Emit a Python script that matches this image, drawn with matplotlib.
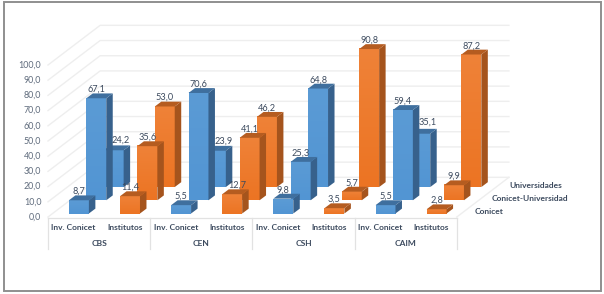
import numpy as np
import matplotlib
matplotlib.use('Agg')
from matplotlib import pyplot as plt
from matplotlib.colors import LinearSegmentedColormap
from matplotlib.patches import Polygon, Rectangle

plt.rcParams['font.family'] = ['Lato', 'DejaVu Sans']

groups = ['CBS', 'CEN', 'CSH', 'CAIM']
categories = ['Inv. Conicet', 'Institutos'] * 4
series = ['Conicet', 'Conicet-Universidad', 'Universidades']
conicet = [8.7, 11.4, 5.5, 12.7, 9.8, 3.5, 5.5, 2.8]
conicet_univ = [67.1, 35.6, 70.6, 41.1, 25.3, 5.7, 59.4, 9.9]
universidades = [24.2, 53.0, 23.9, 46.2, 64.8, 90.8, 35.1, 87.2]
y_ticks = [0, 10, 20, 30, 40, 50, 60, 70, 80, 90, 100]

TEXT = '#3c4a5e'
TICK = '#5f6b7c'
GRID = '#eeeeee'
# scale of the axes: pixels for one category / one value unit
PX_X = 51.1
PX_Y = 1.52
# oblique depth shift for one row, in data units
ROW_DX = 0.34
ROW_DY = 8.7
BAR_W = 0.39
SIDE_DX = 0.127
SIDE_DY = 3.2
# labels moved aside in the original chart, (category, row): (dx in px, dy in units)
NUDGE = {(0, 2): (7, 0.8), (2, 2): (8, 0.8), (6, 2): (7, 1.5), (3, 0): (5, 0)}

fig = plt.figure(figsize=(6.04, 2.94), dpi=100)
ax = fig.add_axes([0, 0, 1, 1])
xlim = (-48 / PX_X, (604 - 48) / PX_X)
ylim = (-(294 - 217) / PX_Y, 217 / PX_Y)


def frame():
    # outer grey picture border, in axes fraction
    ax.add_patch(Rectangle((3.5 / 604, 3.5 / 294), 597.5 / 604, 289 / 294,
                           transform=ax.transAxes, fill=False,
                           ec='#8f8f8f', lw=1.4, zorder=1))


def walls():
    n = len(categories)
    dx = ROW_DX * 3
    dy = ROW_DY * 3
    for v in y_ticks:
        ax.plot([0, dx, n + dx], [v, v + dy, v + dy], color=GRID, lw=1, zorder=2)
        ax.text(-0.13, v, f'{v:.1f}'.replace('.', ','), ha='right', va='center',
                fontsize=6.4, color=TICK, zorder=50)
    ax.plot([n, n + dx], [0, dy], color=GRID, lw=1, zorder=2)
    # category axis below the floor
    low = -21
    ax.plot([0, n], [-0.5, -0.5], color='#e2e2e2', lw=0.9, zorder=2)
    for i in range(len(groups) + 1):
        ax.plot([i * 2, i * 2], [-0.5, low], color='#e2e2e2', lw=0.9, zorder=2)
    for i, c in enumerate(categories):
        ax.text(i + 0.5, -7, c, ha='center', va='center', fontsize=6,
                color=TEXT, fontweight='bold', zorder=50)
    for i, g in enumerate(groups):
        ax.text(i * 2 + 1, -17.3, g, ha='center', va='center', fontsize=6,
                color=TEXT, fontweight='bold', zorder=50)
    for r, s in enumerate(series):
        ax.text(n + 0.34 + r * ROW_DX, 3.5 + r * ROW_DY, s, ha='left', va='center',
                fontsize=6, color=TEXT, fontweight='bold', zorder=50)


def bar(i, r, value, cols, z):
    x0 = i + 0.41 + r * ROW_DX
    y0 = 2.3 + r * ROW_DY
    x1 = x0 + BAR_W
    y1 = y0 + value
    cmap = LinearSegmentedColormap.from_list('f', [cols[0], cols[1]])
    ax.imshow(np.linspace(0, 1, 64).reshape(-1, 1), cmap=cmap, aspect='auto',
              extent=(x0, x1, y0, y1), origin='upper', zorder=z)
    ax.add_patch(Polygon([(x1, y0), (x1 + SIDE_DX, y0 + SIDE_DY),
                          (x1 + SIDE_DX, y1 + SIDE_DY), (x1, y1)],
                         fc=cols[2], ec='none', zorder=z))
    ax.add_patch(Polygon([(x0, y1), (x1, y1), (x1 + SIDE_DX, y1 + SIDE_DY),
                          (x0 + SIDE_DX, y1 + SIDE_DY)],
                         fc=cols[3], ec='none', zorder=z))
    nx, ny = NUDGE.get((i, r), (0, 0))
    ax.text((x0 + x1) / 2 + nx / PX_X, y1 + 5.8 + ny, f'{value:.1f}'.replace('.', ','),
            ha='center', va='center', fontsize=6.6, color=TEXT, zorder=60)


frame()
walls()
blue = ('#5B9BD5', '#5295D3', '#37618C', '#3F6F9E')
orange = ('#EF8238', '#EC7423', '#A5541D', '#B55C20')
colors = [blue, orange, blue, orange, blue, orange, blue, orange]
# back row first so the front rows cover it
for r, vals in reversed(list(enumerate([conicet, conicet_univ, universidades]))):
    for i, v in enumerate(vals):
        bar(i, r, v, colors[i], 10 + (2 - r))

ax.set_xlim(*xlim)
ax.set_ylim(*ylim)
ax.axis('off')
fig.savefig('out.png', dpi=100)
